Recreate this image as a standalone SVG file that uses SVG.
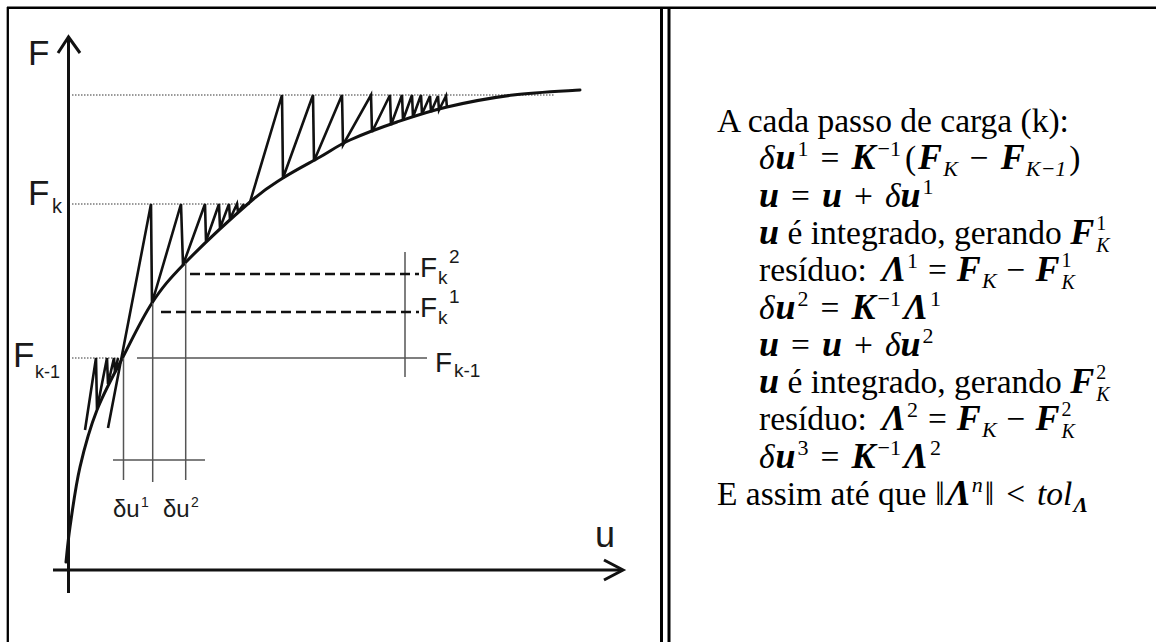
<svg xmlns="http://www.w3.org/2000/svg" width="1156" height="642" viewBox="0 0 1156 642">
<style>
.frame{stroke:#000;fill:none}
.ax{stroke:#111;stroke-width:3;fill:none}
.dot{stroke:#9a9a9a;stroke-width:2;stroke-dasharray:1.5 1.5;fill:none}
.curve{stroke:#111;stroke-width:3;fill:none;stroke-linecap:round}
.zig{stroke:#111;stroke-width:2.6;fill:none;stroke-linejoin:miter}
.thin{stroke:#555;stroke-width:1.5;fill:none}
.dash{stroke:#111;stroke-width:2.5;stroke-dasharray:10 5;fill:none}
.lab{font-family:"Liberation Sans",Arial,sans-serif;fill:#1a1a1a}
.tx{font-family:"Liberation Serif","Times New Roman",serif;font-size:33.5px;fill:#000}
.bi{font-weight:bold;font-style:italic;font-size:36px}
.it{font-style:italic}
.s{font-size:22px}
.ss{font-size:20px}
</style>
<rect width="1156" height="642" fill="#fff"/>
<g id="frame">
<line class="frame" x1="7" y1="7.8" x2="1156" y2="7.8" stroke-width="2.5"/>
<line class="frame" x1="7.8" y1="7" x2="7.8" y2="642" stroke-width="2.3"/>
<line class="frame" x1="661.5" y1="7" x2="661.5" y2="642" stroke-width="3"/>
<line class="frame" x1="669" y1="7" x2="669" y2="642" stroke-width="3"/>
</g>
<g id="axes">
<line class="ax" x1="68.5" y1="38" x2="68.5" y2="593"/>
<polyline class="ax" points="58,53 68.5,37 80,53"/>
<line class="ax" x1="53" y1="570" x2="622" y2="570"/>
<polyline class="ax" points="604,560 623,570 604,580"/>
</g>
<g id="levels">
<line class="dot" x1="72" y1="95" x2="555" y2="95"/>
<line class="dot" x1="72" y1="204" x2="250" y2="204"/>
<line class="dot" x1="72" y1="358" x2="120" y2="358"/>
</g>
<g id="curve">
<path class="curve" d="M66,562 C66.7,556.2 67.7,542.8 70,527 C72.3,511.2 75.5,486.5 80,467 C84.5,447.5 89.8,428.3 97,410 C104.2,391.7 113.8,374.8 123,357 C132.2,339.2 141.7,318.7 152,303 C162.3,287.3 168.7,279.8 185,263 C201.3,246.2 233.7,216.2 250,202 C266.3,187.8 271.3,185.5 283,178 C294.7,170.5 308.8,163.3 320,157 C331.2,150.7 337.2,145.8 350,140 C362.8,134.2 380.8,127.5 397,122 C413.2,116.5 427.7,111.5 447,107 C466.3,102.5 490.8,97.8 513,95 C535.2,92.2 568.8,90.8 580,90"/>
</g>
<g id="connectors">
<polyline class="zig" points="85,430 96,358 97,409 107,358 108,384 114,358 115,372 118,358"/>
<polyline class="zig" points="108,428 151,204 152,303 181,204 183,265 205,204 206,241 219,204 220,228 229,204 230,219 237,204 238,212 244,204"/>
<polyline class="zig" points="250,202 282,95 283,178 313,95 314,161 342,95 343,145 371,95 372,132 390,95 391,125 402,95 403,120 412,95 413,117 421,95 422,114 430,96 431,112 438,96 439,110 446,96 447,108"/>
<line class="thin" x1="123.5" y1="358" x2="123.5" y2="480"/>
<line class="thin" x1="152.7" y1="303" x2="152.7" y2="482"/>
<line class="thin" x1="185.7" y1="263" x2="185.7" y2="480"/>
<line class="thin" x1="113" y1="460" x2="205" y2="460"/>
<line class="thin" x1="137" y1="358" x2="427" y2="358"/>
<line class="thin" x1="405" y1="252" x2="405" y2="377"/>
<line class="dash" x1="190" y1="274" x2="419" y2="274"/>
<line class="dash" x1="161" y1="312" x2="419" y2="312"/>
</g>
<g id="labels">
<text class="lab" x="28" y="65" font-size="35">F</text>
<text class="lab" x="28" y="205" font-size="35">F</text>
<text class="lab" x="52" y="213" font-size="20">k</text>
<text class="lab" x="13" y="367" font-size="35">F</text>
<text class="lab" x="35" y="378" font-size="18">k-1</text>
<text class="lab" x="420" y="277" font-size="28">F</text>
<text class="lab" x="438" y="284" font-size="19">k</text>
<text class="lab" x="449" y="263" font-size="19">2</text>
<text class="lab" x="420" y="317" font-size="28">F</text>
<text class="lab" x="438" y="324" font-size="19">k</text>
<text class="lab" x="449" y="303" font-size="19">1</text>
<text class="lab" x="435" y="372" font-size="28">F</text>
<text class="lab" x="454" y="377" font-size="19">k-1</text>
<text class="lab" x="113" y="517" font-size="24">δu</text>
<text class="lab" x="141" y="507" font-size="14">1</text>
<text class="lab" x="163" y="517" font-size="24">δu</text>
<text class="lab" x="191" y="507" font-size="14">2</text>
<text class="lab" x="595" y="547" font-size="36">u</text>
</g>
<g id="text">
<text class="tx" x="717" y="132">A cada passo de carga (k):</text>
<text class="tx" x="759" y="169"><tspan class="it">δ</tspan><tspan class="bi" dx="1">u</tspan><tspan class="s" dx="2" dy="-13">1</tspan><tspan dx="12" dy="13">=</tspan><tspan class="bi" dx="12">K</tspan><tspan class="s" dx="2" dy="-13">−1</tspan><tspan dx="4" dy="13">(</tspan><tspan class="bi" dx="2">F</tspan><tspan class="s it" dx="1" dy="7">K</tspan><tspan dx="12" dy="-7">−</tspan><tspan class="bi" dx="12">F</tspan><tspan class="s it" dx="1" dy="7">K−1</tspan><tspan dx="3" dy="-7">)</tspan></text>
<text class="tx" x="759" y="207"><tspan class="bi">u</tspan><tspan dx="12">=</tspan><tspan class="bi" dx="12">u</tspan><tspan dx="12">+</tspan><tspan class="it" dx="12">δ</tspan><tspan class="bi">u</tspan><tspan class="s" dx="2" dy="-13">1</tspan></text>
<text class="tx" x="759" y="244"><tspan class="bi">u</tspan><tspan> é integrado, gerando </tspan><tspan class="bi">F</tspan><tspan class="ss" dx="2" dy="-14">1</tspan><tspan class="ss it" dx="-10" dy="22">K</tspan></text>
<text class="tx" x="759" y="281"><tspan>resíduo:</tspan><tspan class="bi" dx="15">Λ</tspan><tspan class="s" dx="1" dy="-13">1</tspan><tspan dx="10" dy="13">=</tspan><tspan class="bi" dx="10">F</tspan><tspan class="s it" dx="1" dy="7">K</tspan><tspan dx="10" dy="-7">−</tspan><tspan class="bi" dx="10">F</tspan><tspan class="ss" dx="2" dy="-14">1</tspan><tspan class="ss it" dx="-10" dy="22">K</tspan></text>
<text class="tx" x="759" y="319"><tspan class="it">δ</tspan><tspan class="bi" dx="1">u</tspan><tspan class="s" dx="2" dy="-13">2</tspan><tspan dx="12" dy="13">=</tspan><tspan class="bi" dx="12">K</tspan><tspan class="s" dx="2" dy="-13">−1</tspan><tspan class="bi" dx="3" dy="13">Λ</tspan><tspan class="s" dx="2" dy="-13">1</tspan></text>
<text class="tx" x="759" y="356"><tspan class="bi">u</tspan><tspan dx="12">=</tspan><tspan class="bi" dx="12">u</tspan><tspan dx="12">+</tspan><tspan class="it" dx="12">δ</tspan><tspan class="bi">u</tspan><tspan class="s" dx="2" dy="-13">2</tspan></text>
<text class="tx" x="759" y="393"><tspan class="bi">u</tspan><tspan> é integrado, gerando </tspan><tspan class="bi">F</tspan><tspan class="ss" dx="2" dy="-14">2</tspan><tspan class="ss it" dx="-10" dy="22">K</tspan></text>
<text class="tx" x="759" y="430"><tspan>resíduo:</tspan><tspan class="bi" dx="15">Λ</tspan><tspan class="s" dx="1" dy="-13">2</tspan><tspan dx="10" dy="13">=</tspan><tspan class="bi" dx="10">F</tspan><tspan class="s it" dx="1" dy="7">K</tspan><tspan dx="10" dy="-7">−</tspan><tspan class="bi" dx="10">F</tspan><tspan class="ss" dx="2" dy="-14">2</tspan><tspan class="ss it" dx="-10" dy="22">K</tspan></text>
<text class="tx" x="759" y="468"><tspan class="it">δ</tspan><tspan class="bi" dx="1">u</tspan><tspan class="s" dx="2" dy="-13">3</tspan><tspan dx="12" dy="13">=</tspan><tspan class="bi" dx="12">K</tspan><tspan class="s" dx="2" dy="-13">−1</tspan><tspan class="bi" dx="3" dy="13">Λ</tspan><tspan class="s" dx="2" dy="-13">2</tspan></text>
<text class="tx" x="717" y="505"><tspan>E assim até que</tspan><tspan dx="9">‖</tspan><tspan class="bi" dx="2">Λ</tspan><tspan class="s it" dx="1" dy="-13">n</tspan><tspan dx="2" dy="13">‖</tspan><tspan dx="12">&lt;</tspan><tspan class="it" dx="12">tol</tspan><tspan class="s bi" dx="1" dy="7">Λ</tspan></text>
</g>
</svg>
